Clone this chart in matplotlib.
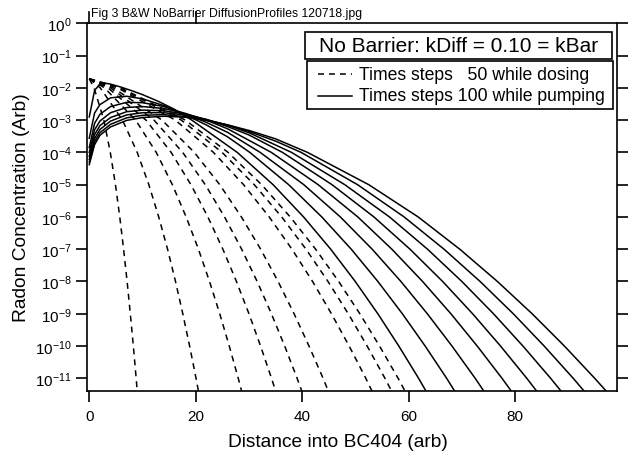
import matplotlib
matplotlib.use("Agg")
import matplotlib.pyplot as plt
from matplotlib.lines import Line2D
from matplotlib.patches import Rectangle
import numpy as np

plt.rcParams['font.family'] = ['Liberation Sans', 'DejaVu Sans']
plt.rcParams['mathtext.fontset'] = 'custom'
plt.rcParams['mathtext.rm'] = 'Liberation Sans'
plt.rcParams['lines.scale_dashes'] = False

# dosing profiles (dashed): value at x=0, then x where each decade is crossed
dose_steps = [10, 50, 100, 150, 200, 250, 350, 400, 450]
dose_logy = [-1.72, -2, -3, -4, -5, -6, -7, -8, -9, -10, -11, -12]
dose_x = [
    [0, 0.90, 2.74, 3.95, 4.92, 5.73, 6.45, 7.11, 7.71, 8.28, 8.81, 9.31],
    [0, 2.06, 6.24, 9.01, 11.19, 13.05, 14.71, 16.20, 17.57, 18.85, 20.06, 21.20],
    [0, 2.87, 8.71, 12.58, 15.61, 18.20, 20.51, 22.59, 24.51, 26.30, 27.99, 29.57],
    [0, 3.51, 10.66, 15.38, 19.10, 22.28, 25.10, 27.65, 30.00, 32.18, 34.24, 36.18],
    [0, 4.00, 12.16, 17.55, 21.79, 25.41, 28.63, 31.54, 34.22, 36.71, 39.05, 41.27],
    [0, 4.50, 13.67, 19.73, 24.51, 28.58, 32.20, 35.47, 38.48, 41.28, 43.93, 46.41],
    [0, 5.33, 16.17, 23.33, 28.99, 33.80, 38.08, 41.95, 45.50, 48.82, 51.95, 54.89],
    [0, 5.70, 17.29, 24.95, 31.00, 36.15, 40.72, 44.85, 48.66, 52.20, 55.55, 58.70],
    [0, 5.95, 18.06, 26.07, 32.38, 37.75, 42.53, 46.86, 50.83, 54.53, 58.02, 61.31],
]

# pumping profiles (solid)
pump_steps = [510, 600, 700, 800, 900, 1000, 1100, 1200]
pump_x = [
    [0, 1, 2, 3, 4, 6, 8, 10, 13, 16, 19.26, 27.8, 34.53, 40.26, 45.36, 49.97, 54.21, 58.15, 61.87, 65.38],
    [0, 1, 2, 4, 7, 10, 14, 18, 22, 26, 30.16, 37.46, 43.68, 49.22, 54.22, 58.82, 63.1, 67.14, 70.94],
    [0, 1, 2, 4, 7, 10, 14, 18, 22, 26, 32.1, 40.3, 47.17, 53.15, 58.55, 63.51, 68.14, 72.5, 76.6],
    [0, 1, 2, 4, 7, 10, 14, 18, 22, 26, 34.2, 43.0, 50.45, 56.85, 62.62, 67.94, 72.88, 77.54, 81.94],
    [0, 1, 2, 4, 7, 10, 14, 18, 22, 26, 30, 36.3, 45.6, 53.48, 60.26, 66.39, 72.02, 77.26, 82.2, 86.87],
    [0, 1, 2, 4, 7, 10, 14, 18, 22, 26, 30, 38.0, 48.0, 56.4, 63.55, 70.0, 75.94, 81.47, 86.68, 91.6],
    [0, 1, 2, 4, 7, 10, 14, 18, 22, 26, 30, 35, 39.8, 50.4, 59.15, 66.65, 73.43, 79.66, 85.46, 90.92, 96.08],
    [0, 1, 2, 4, 7, 10, 14, 18, 22, 26, 30, 35, 41.0, 52.5, 61.79, 69.61, 76.68, 83.2, 89.26, 94.96, 100.4],
]
pump_logy = [
    [-2.9, -2.08, -1.885, -1.857, -1.884, -1.979, -2.09, -2.21, -2.42, -2.665, -3, -4, -5, -6, -7, -8, -9, -10, -11, -12],
    [-3.56, -2.78, -2.52, -2.31, -2.26, -2.34, -2.55, -2.83, -3.15, -3.52, -4, -5, -6, -7, -8, -9, -10, -11, -12],
    [-3.85, -3.10, -2.82, -2.58, -2.45, -2.46, -2.58, -2.80, -3.07, -3.38, -4, -5, -6, -7, -8, -9, -10, -11, -12],
    [-4.00, -3.30, -3.03, -2.77, -2.61, -2.58, -2.64, -2.79, -3.00, -3.27, -4, -5, -6, -7, -8, -9, -10, -11, -12],
    [-4.12, -3.45, -3.17, -2.92, -2.74, -2.69, -2.71, -2.81, -2.98, -3.20, -3.46, -4, -5, -6, -7, -8, -9, -10, -11, -12],
    [-4.22, -3.57, -3.29, -3.03, -2.84, -2.77, -2.77, -2.84, -2.98, -3.16, -3.39, -4, -5, -6, -7, -8, -9, -10, -11, -12],
    [-4.30, -3.67, -3.39, -3.13, -2.93, -2.85, -2.83, -2.89, -3.00, -3.15, -3.35, -3.65, -4, -5, -6, -7, -8, -9, -10, -11, -12],
    [-4.38, -3.76, -3.47, -3.21, -3.01, -2.92, -2.88, -2.91, -3.01, -3.15, -3.32, -3.58, -4, -5, -6, -7, -8, -9, -10, -11, -12],
]

x_ticks = [0, 20, 40, 60, 80]
y_exps = list(range(0, -12, -1))

W, H = 628, 452
fig = plt.figure(figsize=(W / 100, H / 100), dpi=100)
ax = fig.add_axes([87.3 / W, 1 - 391.7 / H, 530 / W, 367.4 / H])
DASH = (4.3, 3.6)

for xs in dose_x:
    ax.plot(xs, 10.0 ** np.array(dose_logy), color='black', lw=1.1, dashes=DASH)
for xs, ly in zip(pump_x, pump_logy):
    ax.plot(xs, 10.0 ** np.array(ly), color='black', lw=1.1)

ax.set_yscale('log')
ax.set_xlim(-0.37, 99.2)
ax.set_ylim(10 ** -11.384, 1)
ax.set_xticks(x_ticks)
ax.set_yticks([10.0 ** e for e in y_exps])
ax.set_yticklabels([r'$\mathregular{10^{%d}}$' % e for e in y_exps])
ax.minorticks_off()
ax.tick_params(direction='out', length=8, width=1.2, labelsize=11, pad=3,
               top=False, right=True, labelright=False)
ax.tick_params(axis='x', pad=5)
for s in ax.spines.values():
    s.set_linewidth(1.2)

# the two marks above the top axis
for xt in x_ticks[:2]:
    ax.plot([xt, xt], [1.0, 1.03], color='black', lw=1.2, clip_on=False,
            transform=ax.get_xaxis_transform())

ax.set_xlabel('Distance into BC404 (arb)', fontsize=13.8, labelpad=3)
ax.xaxis.set_label_coords((338 - 87.3) / 530, -0.115)
ax.set_ylabel('Radon Concentration (Arb)', fontsize=13.8, labelpad=4)

fig.text(91 / W, 1 - 14 / H, 'Fig 3 B&W NoBarrier DiffusionProfiles 120718.jpg',
         fontsize=8.8, ha='left', va='center', zorder=-1)


def box(x0, y0, x1, y1):
    fig.add_artist(Rectangle((x0 / W, 1 - y1 / H), (x1 - x0) / W, (y1 - y0) / H,
                             transform=fig.transFigure, fc='white', ec='black',
                             lw=1.2, zorder=5))


box(305, 33, 612, 60)
fig.text(458.5 / W, 1 - 47 / H, 'No Barrier: kDiff = 0.10 = kBar', fontsize=15,
         ha='center', va='center', zorder=6)

box(307, 62, 613, 110)
labels = ['Times steps   50 while dosing', 'Times steps 100 while pumping']
for row, (lab, yy) in enumerate(zip(labels, [75, 97])):
    ln = Line2D([318 / W, 352 / W], [1 - yy / H, 1 - yy / H], color='black', lw=1.1,
                transform=fig.transFigure, zorder=6)
    if row == 0:
        ln.set_dashes(DASH)
    fig.add_artist(ln)
    fig.text(359 / W, 1 - yy / H, lab, fontsize=12.7, ha='left', va='center',
             zorder=6)

fig.savefig('out.png', dpi=100)
